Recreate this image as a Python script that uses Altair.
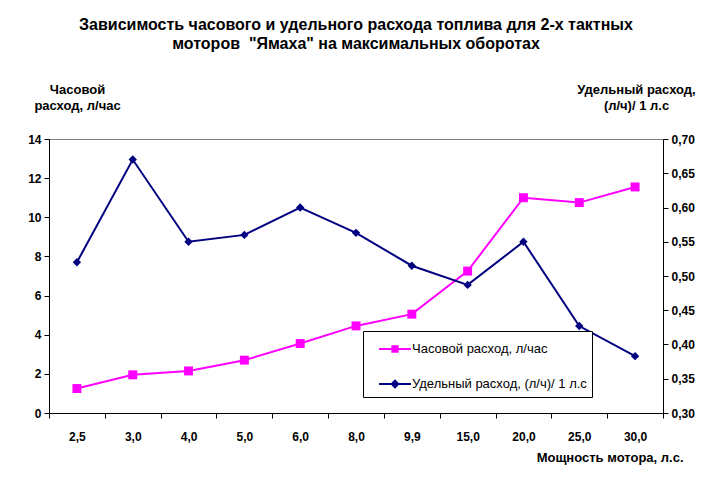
import altair as alt
import pandas as pd

x_labels = ["2,5", "3,0", "4,0", "5,0", "6,0", "8,0", "9,9", "15,0", "20,0", "25,0", "30,0"]
hourly = [1.25, 1.95, 2.15, 2.7, 3.55, 4.45, 5.05, 7.25, 11.0, 10.75, 11.55]
specific = [0.52, 0.67, 0.55, 0.56, 0.60, 0.563, 0.515, 0.487, 0.55, 0.427, 0.383]

s1 = "Часовой расход, л/час"
s2 = "Удельный расход, (л/ч)/ 1 л.с"
y_left_ticks = [0, 2, 4, 6, 8, 10, 12, 14]
y_right_ticks = [0.30, 0.35, 0.40, 0.45, 0.50, 0.55, 0.60, 0.65, 0.70]

df = pd.DataFrame({
    "x": x_labels * 2,
    "series": [s1] * len(x_labels) + [s2] * len(x_labels),
    "value": hourly + specific,
})

PINK = "#FF00FF"
NAVY = "#000080"
FONT = "Liberation Sans, Arial, sans-serif"

SYM_SQUARE = "M-1.33,0H1.33M-0.22,-0.22H0.22V0.22H-0.22Z"
SYM_DIAMOND = "M-1.33,0H1.33M0,-0.28L0.28,0L0,0.28L-0.28,0Z"

legend = alt.Legend(
    title=None,
    orient="none",
    legendX=314,
    legendY=192,
    fillColor="white",
    strokeColor="black",
    padding=5,
    symbolSize=576,
    symbolOffset=14,
    symbolStrokeWidth=2,
    symbolOpacity=1,
    labelOffset=4,
    rowPadding=15,
    labelFont=FONT,
    labelFontSize=13,
    labelColor="black",
    labelLimit=300,
)

cscale = alt.Scale(domain=[s1, s2], range=[PINK, NAVY])

x_enc = alt.X(
    "x:O",
    sort=x_labels,
    bandPosition=0.5,
    scale=alt.Scale(type="band", paddingInner=0, paddingOuter=0),
    axis=alt.Axis(
        title="Мощность мотора, л.с.",
        titleX=634,
        titleY=44,
        titleAlign="right",
        titleBaseline="middle",
        titleFont=FONT,
        titleFontSize=13,
        titleFontWeight="bold",
        labelAngle=0,
        labelFont=FONT,
        labelFontSize=12,
        labelFontWeight="bold",
        labelPadding=13,
        tickBand="extent",
        tickSize=5,
        labelColor="black",
        tickColor="black",
        domainColor="black",
        grid=False,
    ),
)

base = alt.Chart(df)

left = base.transform_filter(alt.datum.series == s1)
left_y = alt.Y(
    "value:Q",
    scale=alt.Scale(domain=[0, 14], nice=False),
    axis=alt.Axis(
        values=y_left_ticks,
        format="d",
        title=["Часовой", "расход, л/час"],
        titleAngle=0,
        titleX=28,
        titleY=-43,
        titleAlign="center",
        titleBaseline="bottom",
        titleFont=FONT,
        titleFontSize=13,
        titleFontWeight="bold",
        titleLineHeight=16,
        labelFont=FONT,
        labelFontSize=12,
        labelFontWeight="bold",
        labelColor="black",
        tickColor="black",
        domainColor="black",
        tickSize=5,
        labelPadding=3,
        grid=False,
    ),
)
left_line = left.mark_line(strokeWidth=2, color=PINK).encode(x=x_enc, y=left_y)
left_pts = left.mark_point(shape="square", filled=True, size=80, opacity=1, color=PINK).encode(
    x=x_enc, y=left_y
)
# legend carrier layer (no rows drawn): supplies line+marker legend symbols
legend_layer = base.transform_filter("false").mark_point(strokeWidth=2, opacity=1).encode(
    x=x_enc,
    y=left_y,
    fill=alt.Fill("series:N", scale=cscale, legend=legend),
    stroke=alt.Stroke("series:N", scale=cscale, legend=legend),
    shape=alt.Shape("series:N", scale=alt.Scale(domain=[s1, s2], range=[SYM_SQUARE, SYM_DIAMOND]), legend=legend),
)

right = base.transform_filter(alt.datum.series == s2)
right_y = alt.Y(
    "value:Q",
    scale=alt.Scale(domain=[0.30, 0.70], nice=False, zero=False),
    axis=alt.Axis(
        orient="right",
        values=y_right_ticks,
        labelExpr="replace(format(datum.value, '.2f'), '.', ',')",
        title=["Удельный расход,", "(л/ч)/ 1 л.с"],
        titleAngle=0,
        titleX=-27,
        titleY=-43,
        titleAlign="center",
        titleBaseline="bottom",
        titleFont=FONT,
        titleFontSize=13,
        titleFontWeight="bold",
        titleLineHeight=16,
        labelFont=FONT,
        labelFontSize=12,
        labelFontWeight="bold",
        labelColor="black",
        tickColor="black",
        domainColor="black",
        tickSize=5,
        labelPadding=3,
        grid=False,
    ),
)
right_line = right.mark_line(strokeWidth=2, color=NAVY).encode(x=x_enc, y=right_y)
right_pts = right.mark_point(shape="diamond", filled=True, size=70, opacity=1, color=NAVY).encode(
    x=x_enc, y=right_y
)

left_layer = alt.layer(left_line, left_pts, legend_layer)
right_layer = alt.layer(right_line, right_pts)

chart = (
    alt.layer(left_layer, right_layer)
    .resolve_scale(y="independent")
    .properties(
        width=614,
        height=274,
        autosize=alt.AutoSizeParams(type="none"),
        padding={"left": 41, "top": 131, "right": 46, "bottom": 60},
        title=alt.TitleParams(
            text=["Зависимость часового и удельного расхода топлива для 2-х тактных",
                  "моторов \u00a0\"Ямаха\" на максимальных оборотах"],
            font=FONT,
            fontSize=16,
            fontWeight="bold",
            color="black",
            anchor="middle",
            lineHeight=19,
            offset=31,
        ),
        background="white",
    )
    .configure_view(stroke="#808080", strokeWidth=1)
)

chart.save("out.html", embed_options={"renderer": "svg", "actions": False})
